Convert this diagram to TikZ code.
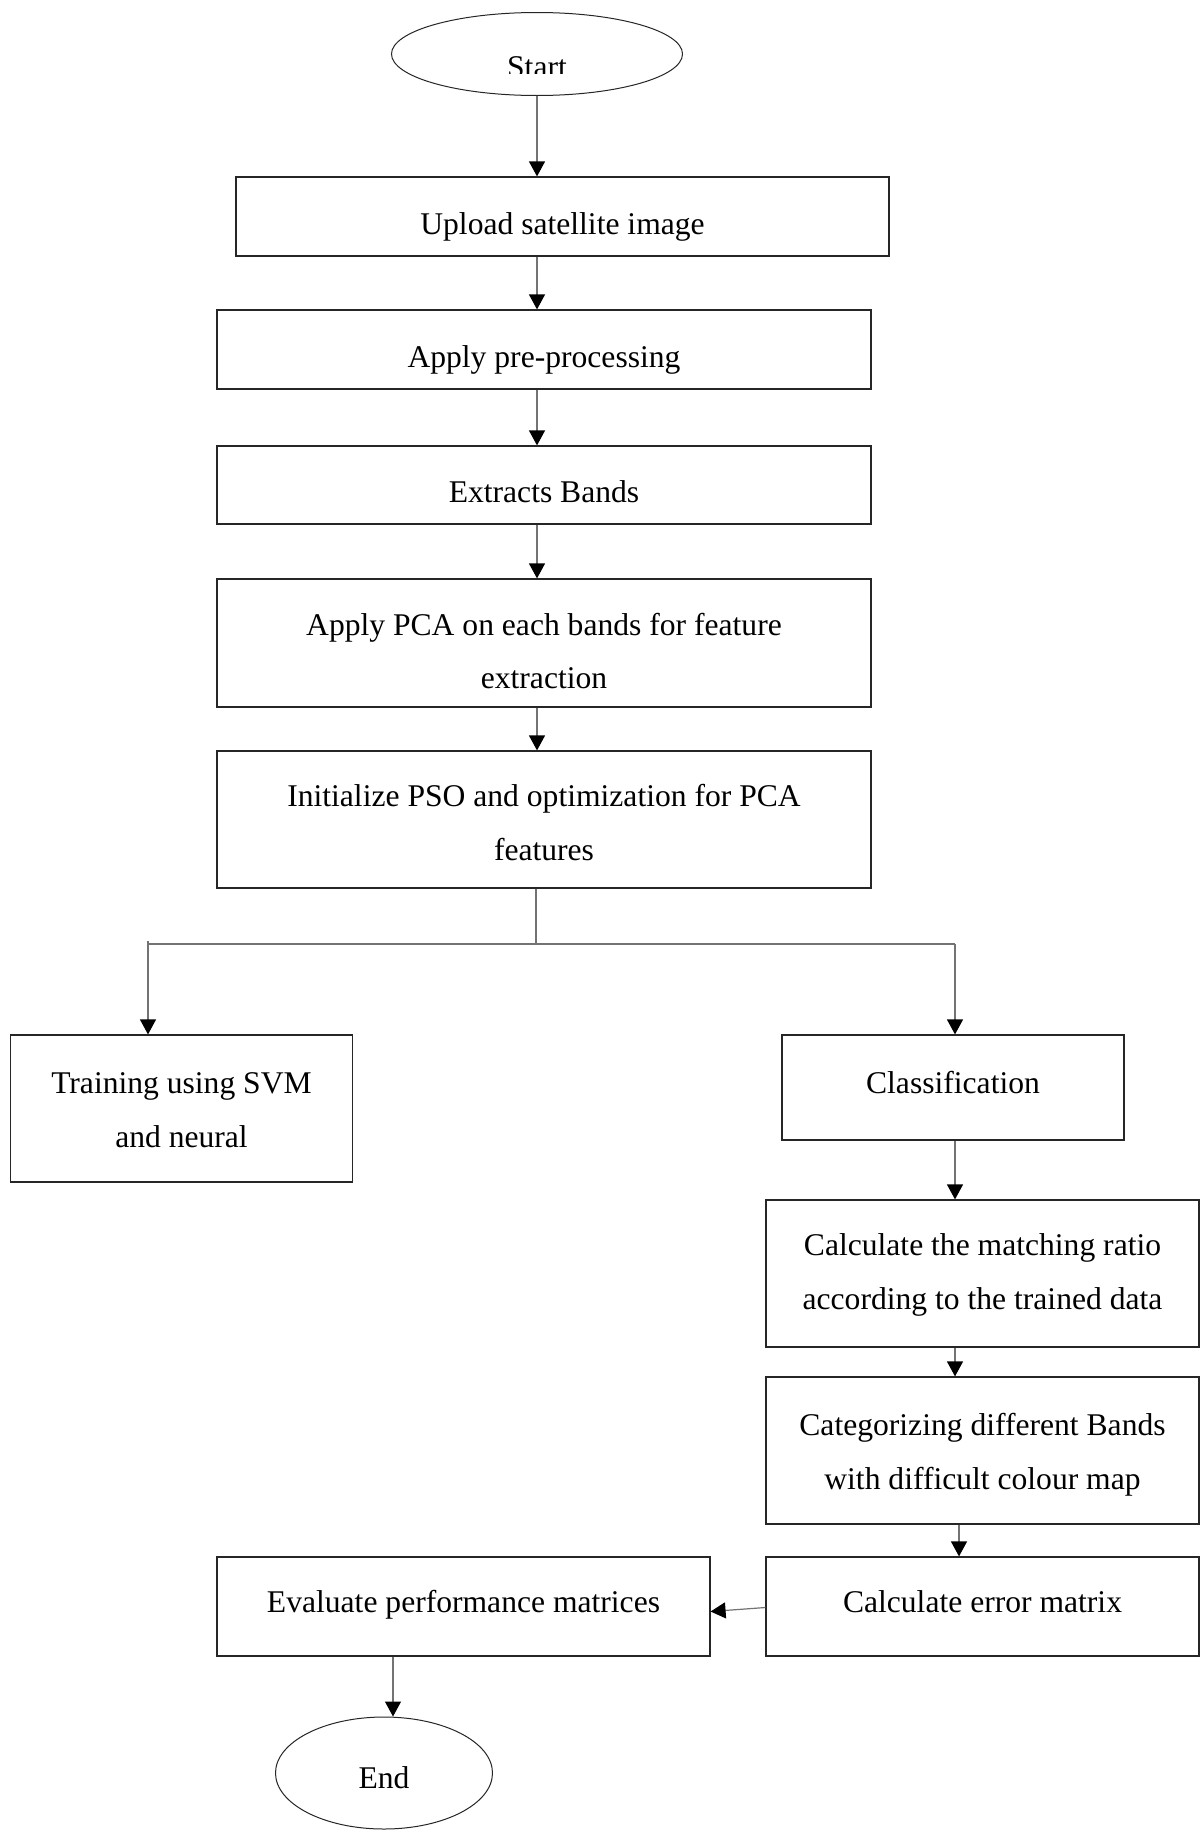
\documentclass[tikz,border=0pt]{standalone}
\usepackage{fontspec}
\setmainfont{Liberation Serif}
\usetikzlibrary{shapes.geometric,arrows.meta}
\newcommand{\tbx}[2]{\raisebox{#1}[0pt][0pt]{\begin{tabular}[t]{@{}c@{}}#2\end{tabular}}}
\begin{document}
\begin{tikzpicture}[x=0.5pt,y=-0.5pt,
  box/.style={draw=black!85,line width=0.6pt,rectangle,inner sep=0pt,
    font=\fontsize{15.8}{26.9}\selectfont},
  oval/.style={draw=black!85,line width=0.5pt,ellipse,inner sep=0pt,
    font=\fontsize{15.8}{26.9}\selectfont},
  conn/.style={draw=black!55,line width=0.6pt},
  arr/.style={conn,-{Triangle[length=7.5pt,width=8pt,fill=black,color=black]}}]
\useasboundingbox (0,0) rectangle (1200,1831);
\fill[white] (0,0) rectangle (1200,1831);
% nodes
\node[oval,minimum width=145.5pt,minimum height=41.5pt] (start) at (537,54) {};
\begin{scope}
\clip (300,0) rectangle (800,73);
\node[font=\fontsize{15.8}{26.9}\selectfont,anchor=base,inner sep=0pt] (starttext) at (537,77) {Start};
\end{scope}
\node[box,minimum width=326.5pt,minimum height=39.5pt] (upload) at (562.5,216.5) {\tbx{-8.8pt}{Upload satellite image}};
\node[box,minimum width=327pt,minimum height=39.5pt] (pre) at (544,349.5) {\tbx{-8.8pt}{Apply pre-processing}};
\node[box,minimum width=327pt,minimum height=39pt] (bands) at (544,485) {\tbx{-8.5pt}{Extracts Bands}};
\node[box,minimum width=327pt,minimum height=64pt] (pca) at (544,643) {\tbx{4pt}{Apply PCA on each bands for feature\\extraction}};
\node[box,minimum width=327pt,minimum height=68.5pt] (pso) at (544,819.5) {\tbx{6.5pt}{Initialize PSO and optimization for PCA\\features}};
\node[box,minimum width=171pt,minimum height=73.5pt] (train) at (181.5,1108.5) {\tbx{7.5pt}{Training using SVM\\and neural}};
\node[box,minimum width=171pt,minimum height=52.5pt] (classif) at (953,1087.5) {\tbx{-3pt}{Classification}};
\node[box,minimum width=216.5pt,minimum height=73.5pt] (match) at (982.5,1273.5) {\tbx{8.8pt}{Calculate the matching ratio\\according to the trained data}};
\node[box,minimum width=216.5pt,minimum height=73.5pt] (categ) at (982.5,1450.5) {\tbx{7.4pt}{Categorizing different Bands\\with difficult colour map}};
\node[box,minimum width=216.5pt,minimum height=49.5pt] (error) at (982.5,1606.5) {\tbx{-2.8pt}{Calculate error matrix}};
\node[box,minimum width=246.5pt,minimum height=49.5pt] (eval) at (463.5,1606.5) {\tbx{-2.8pt}{Evaluate performance matrices}};
\node[oval,minimum width=108.5pt,minimum height=56pt] (end) at (384,1773) {\tbx{-7.5pt}{End}};
% connectors
\draw[arr] (start.south) -- (start.south |- upload.north);
\draw[arr] (upload.south -| start.south) -- (pre.north -| start.south);
\draw[arr] (pre.south -| start.south) -- (bands.north -| start.south);
\draw[arr] (bands.south -| start.south) -- (pca.north -| start.south);
\draw[arr] (pca.south -| start.south) -- (pso.north -| start.south);
\coordinate (j) at (536,944);
\coordinate (jl) at (148,944);
\coordinate (jr) at (955,944);
\draw[conn] (pso.south -| j) -- (j);
\draw[conn] (jl) -- (jr);
\draw[arr] ([yshift=1.5pt]jl) -- (jl |- train.north);
\draw[arr] (jr) -- (jr |- classif.north);
\draw[arr] (classif.south -| jr) -- (match.north -| jr);
\draw[arr] (match.south -| jr) -- (categ.north -| jr);
\coordinate (ce) at (959,1524);
\draw[arr] (categ.south -| ce) -- (error.north -| ce);
\draw[arr] ([yshift=-0.5pt]error.west) -- ([yshift=-2.5pt]eval.east);
\coordinate (ee) at (393,1656);
\draw[arr] (eval.south -| ee) -- (end.north -| ee);
\end{tikzpicture}
\end{document}
